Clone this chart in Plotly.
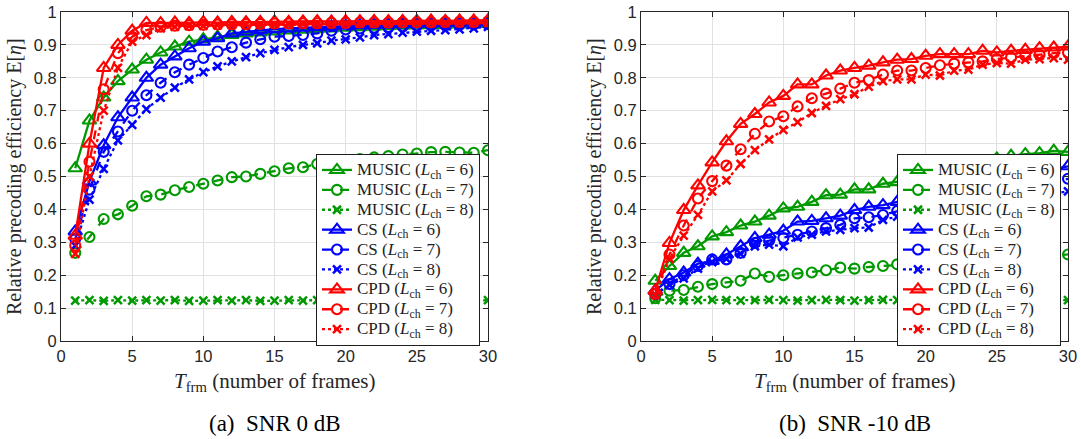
import plotly.graph_objects as go

frames = list(range(1, 31))

# ---- (a) SNR 0 dB ----
a_music6 = [0.525, 0.67, 0.74, 0.79, 0.825, 0.855, 0.877, 0.895, 0.91, 0.917, 0.925, 0.93, 0.935, 0.938, 0.941,
            0.944, 0.946, 0.948, 0.95, 0.952, 0.954, 0.955, 0.957, 0.958, 0.959, 0.96, 0.961, 0.962, 0.963, 0.964]
a_music7 = [0.268, 0.316, 0.371, 0.385, 0.411, 0.44, 0.445, 0.458, 0.468, 0.478, 0.488, 0.498, 0.50, 0.508, 0.516,
            0.525, 0.528, 0.538, 0.543, 0.548, 0.553, 0.558, 0.562, 0.567, 0.57, 0.574, 0.575, 0.573, 0.572, 0.58]
a_music8 = [0.123, 0.124, 0.122, 0.124, 0.123, 0.124, 0.123, 0.124, 0.122, 0.123, 0.124, 0.123, 0.124, 0.122, 0.123,
            0.124, 0.123, 0.124, 0.123, 0.122, 0.124, 0.123, 0.124, 0.123, 0.122, 0.124, 0.123, 0.124, 0.123, 0.124]
a_cs6 = [0.333, 0.485, 0.595, 0.68, 0.74, 0.80, 0.84, 0.865, 0.89, 0.91, 0.92, 0.935, 0.94, 0.945, 0.948,
         0.95, 0.952, 0.954, 0.956, 0.958, 0.96, 0.961, 0.962, 0.963, 0.964, 0.965, 0.966, 0.967, 0.968, 0.969]
a_cs7 = [0.31, 0.46, 0.575, 0.637, 0.70, 0.747, 0.785, 0.817, 0.84, 0.86, 0.88, 0.893, 0.907, 0.917, 0.925,
         0.927, 0.93, 0.935, 0.943, 0.947, 0.95, 0.952, 0.954, 0.956, 0.958, 0.959, 0.96, 0.961, 0.962, 0.963]
a_cs8 = [0.29, 0.43, 0.523, 0.61, 0.657, 0.705, 0.74, 0.77, 0.795, 0.817, 0.835, 0.85, 0.863, 0.875, 0.885,
         0.893, 0.90, 0.905, 0.913, 0.917, 0.923, 0.93, 0.933, 0.937, 0.94, 0.943, 0.945, 0.947, 0.95, 0.955]
a_cpd6 = [0.32, 0.60, 0.83, 0.90, 0.943, 0.967, 0.966, 0.968, 0.967, 0.969, 0.968, 0.97, 0.969, 0.97, 0.971,
          0.97, 0.971, 0.972, 0.971, 0.972, 0.972, 0.973, 0.972, 0.973, 0.973, 0.974, 0.973, 0.974, 0.974, 0.975]
a_cpd7 = [0.29, 0.545, 0.765, 0.875, 0.925, 0.945, 0.955, 0.958, 0.96, 0.961, 0.962, 0.963, 0.963, 0.964, 0.965,
          0.965, 0.966, 0.966, 0.967, 0.967, 0.968, 0.968, 0.968, 0.969, 0.969, 0.969, 0.97, 0.97, 0.97, 0.971]
a_cpd8 = [0.265, 0.50, 0.70, 0.83, 0.91, 0.93, 0.95, 0.955, 0.957, 0.958, 0.959, 0.96, 0.961, 0.961, 0.962,
          0.962, 0.963, 0.963, 0.964, 0.964, 0.965, 0.965, 0.965, 0.966, 0.966, 0.966, 0.967, 0.967, 0.967, 0.968]

# ---- (b) SNR -10 dB ----
b_music6 = [0.183, 0.228, 0.268, 0.288, 0.318, 0.331, 0.351, 0.363, 0.381, 0.403, 0.408, 0.423, 0.443, 0.445, 0.461,
            0.461, 0.478, 0.483, 0.49, 0.50, 0.51, 0.52, 0.535, 0.545, 0.555, 0.563, 0.568, 0.571, 0.578, 0.575]
b_music7 = [0.13, 0.153, 0.155, 0.165, 0.173, 0.178, 0.183, 0.205, 0.195, 0.20, 0.205, 0.208, 0.215, 0.223, 0.22,
            0.225, 0.228, 0.233, 0.235, 0.238, 0.24, 0.243, 0.245, 0.248, 0.25, 0.253, 0.255, 0.258, 0.26, 0.263]
b_music8 = [0.125, 0.124, 0.123, 0.124, 0.125, 0.124, 0.123, 0.124, 0.125, 0.124, 0.123, 0.124, 0.125, 0.124, 0.123,
            0.124, 0.125, 0.124, 0.123, 0.124, 0.125, 0.124, 0.123, 0.124, 0.125, 0.124, 0.123, 0.124, 0.125, 0.124]
b_cs6 = [0.153, 0.188, 0.208, 0.235, 0.243, 0.263, 0.288, 0.313, 0.323, 0.335, 0.363, 0.365, 0.373, 0.381, 0.398,
         0.408, 0.413, 0.423, 0.43, 0.44, 0.45, 0.46, 0.47, 0.48, 0.49, 0.50, 0.508, 0.515, 0.523, 0.531]
b_cs7 = [0.143, 0.173, 0.20, 0.228, 0.248, 0.248, 0.268, 0.298, 0.305, 0.313, 0.323, 0.333, 0.343, 0.353, 0.373,
         0.376, 0.383, 0.395, 0.405, 0.413, 0.42, 0.428, 0.435, 0.443, 0.45, 0.458, 0.466, 0.474, 0.483, 0.493]
b_cs8 = [0.14, 0.17, 0.19, 0.22, 0.24, 0.25, 0.265, 0.288, 0.293, 0.288, 0.315, 0.323, 0.333, 0.338, 0.343,
         0.345, 0.368, 0.378, 0.383, 0.388, 0.395, 0.40, 0.405, 0.41, 0.418, 0.425, 0.432, 0.44, 0.447, 0.455]
b_cpd6 = [0.153, 0.298, 0.398, 0.473, 0.543, 0.607, 0.66, 0.69, 0.725, 0.745, 0.78, 0.78, 0.807, 0.822, 0.83,
          0.837, 0.847, 0.855, 0.857, 0.867, 0.872, 0.872, 0.872, 0.882, 0.877, 0.882, 0.885, 0.89, 0.892, 0.895]
b_cpd7 = [0.143, 0.263, 0.351, 0.433, 0.486, 0.533, 0.583, 0.63, 0.667, 0.683, 0.713, 0.738, 0.752, 0.767, 0.785,
          0.793, 0.81, 0.822, 0.822, 0.83, 0.838, 0.843, 0.847, 0.85, 0.857, 0.862, 0.867, 0.87, 0.875, 0.877]
b_cpd8 = [0.14, 0.25, 0.32, 0.383, 0.455, 0.488, 0.538, 0.58, 0.613, 0.642, 0.665, 0.693, 0.715, 0.735, 0.75,
          0.773, 0.79, 0.795, 0.795, 0.81, 0.807, 0.822, 0.825, 0.84, 0.845, 0.843, 0.855, 0.857, 0.86, 0.855]

methods = ["MUSIC", "CS", "CPD"]
lch = [6, 7, 8]
x_ticks = [0, 5, 10, 15, 20, 25, 30]
y_ticks = [0, 0.1, 0.2, 0.3, 0.4, 0.5, 0.6, 0.7, 0.8, 0.9, 1]
captions = ["(a)&nbsp;&nbsp;SNR 0 dB", "(b)&nbsp;&nbsp;SNR -10 dB"]

panel_a = [[a_music6, a_music7, a_music8], [a_cs6, a_cs7, a_cs8], [a_cpd6, a_cpd7, a_cpd8]]
panel_b = [[b_music6, b_music7, b_music8], [b_cs6, b_cs7, b_cs8], [b_cpd6, b_cpd7, b_cpd8]]

colors = {"MUSIC": "rgb(0,153,0)", "CS": "rgb(0,0,255)", "CPD": "rgb(255,0,0)"}
dashes = {6: "solid", 7: "dash", 8: "dot"}
symbols = {6: "triangle-up-open", 7: "circle-open", 8: "x-thin-open"}
msizes = {6: 12, 7: 10, 8: 8}

SERIF = "Liberation Serif"
SANS = "Liberation Sans"

fig = go.Figure()

for p, (panel, xa, ya, lg) in enumerate([(panel_a, "x", "y", "legend"), (panel_b, "x2", "y2", "legend2")]):
    for mi, m in enumerate(methods):
        for li, L in enumerate(lch):
            fig.add_trace(go.Scatter(
                x=frames, y=panel[mi][li], xaxis=xa, yaxis=ya, legend=lg,
                mode="lines+markers",
                name=f'<span style="font-size:17px">{m} (<i>L</i><sub>ch</sub> = {L})</span>',
                line=dict(color=colors[m], width=2.3, dash=dashes[L]),
                marker=dict(symbol=symbols[L], size=msizes[L], color=colors[m],
                            line=dict(color=colors[m], width=2.5 if L == 8 else 2.1)),
            ))

W, H = 1081, 439
xd1 = [61 / W, 488 / W]
xd2 = [641 / W, 1068 / W]
yd = [1 - 341 / H, 1 - 12 / H]

axis_common = dict(
    range=[0, 30], tickvals=x_ticks, showgrid=True, gridcolor="rgb(225,225,225)", gridwidth=1,
    showline=True, linecolor="rgb(38,38,38)", linewidth=1, mirror="ticks", ticks="inside", ticklen=5,
    tickcolor="rgb(38,38,38)", tickfont=dict(family=SANS, size=16.5, color="rgb(38,38,38)"),
    zeroline=False, automargin=False,
)
yaxis_common = dict(axis_common, range=[0, 1], tickvals=y_ticks)

legend_common = dict(
    bgcolor="white", bordercolor="rgb(30,30,30)", borderwidth=1,
    font=dict(family=SERIF, size=13, color="rgb(30,30,30)"),
    xanchor="left", yanchor="top", tracegroupgap=0, itemwidth=30,
)

fig.update_layout(
    width=W, height=H, margin=dict(l=0, r=0, t=0, b=0),
    paper_bgcolor="white", plot_bgcolor="white",
    xaxis=dict(axis_common, domain=xd1, anchor="y"),
    yaxis=dict(yaxis_common, domain=yd, anchor="x"),
    xaxis2=dict(axis_common, domain=xd2, anchor="y2"),
    yaxis2=dict(yaxis_common, domain=yd, anchor="x2"),
    legend=dict(legend_common, x=316 / W, y=1 - 154 / H),
    legend2=dict(legend_common, x=897 / W, y=1 - 154 / H),
    showlegend=True,
)

ann = []
for xdom, cap in [(xd1, captions[0]), (xd2, captions[1])]:
    xc = (xdom[0] + xdom[1]) / 2
    ann.append(dict(x=xc, y=1 - 382 / H, xref="paper", yref="paper", showarrow=False,
                    xanchor="center", yanchor="middle",
                    text="<i>T</i><sub>frm</sub> (number of frames)",
                    font=dict(family=SERIF, size=21, color="rgb(38,38,38)")))
    ann.append(dict(x=xc, y=1 - 423 / H, xref="paper", yref="paper", showarrow=False,
                    xanchor="center", yanchor="middle",
                    text=cap, font=dict(family=SERIF, size=23, color="black")))
    ann.append(dict(x=xdom[0] - 46 / W, y=1 - 177 / H, xref="paper", yref="paper", showarrow=False,
                    xanchor="center", yanchor="middle",
                    textangle=-90, text="Relative precoding efficiency E[<i>η</i>]",
                    font=dict(family=SERIF, size=20, color="rgb(38,38,38)")))
fig.update_layout(annotations=ann)

fig.write_html("out.html", config={"displayModeBar": False},
               post_script="document.body.style.margin='0';document.body.style.padding='0';")
